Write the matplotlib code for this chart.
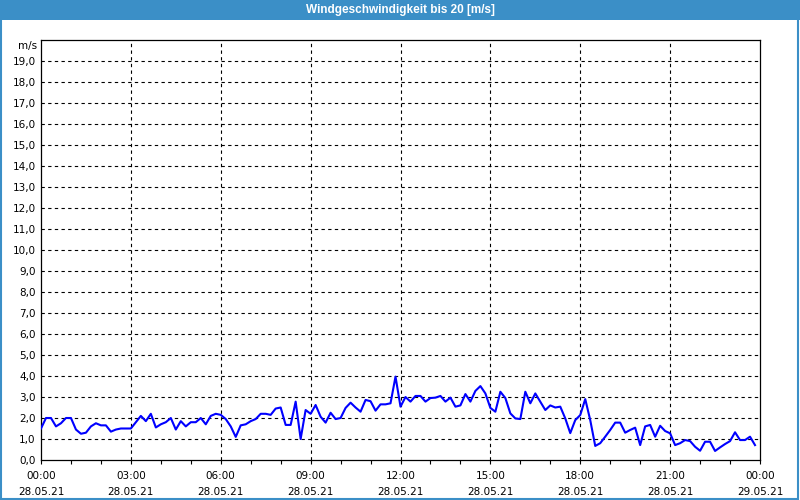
import numpy as np
import matplotlib
import matplotlib.pyplot as plt
from matplotlib.patches import Rectangle

matplotlib.use('agg')

TITLE = "Windgeschwindigkeit bis 20 [m/s]"
UNIT = "m/s"

# wind speed in m/s, one value every 10 minutes from 00:00 to 23:50
speed = [
    1.5, 2.0, 2.0, 1.6, 1.75, 2.0, 2.0, 1.45, 1.25, 1.3, 1.6, 1.75,
    1.65, 1.65, 1.35, 1.45, 1.5, 1.5, 1.5, 1.8, 2.1, 1.85, 2.2, 1.55,
    1.7, 1.8, 2.0, 1.45, 1.85, 1.6, 1.8, 1.8, 2.0, 1.7, 2.1, 2.2,
    2.15, 1.95, 1.6, 1.1, 1.65, 1.7, 1.85, 1.95, 2.2, 2.2, 2.15, 2.45,
    2.5, 1.67, 1.67, 2.78, 1.0, 2.38, 2.2, 2.62, 2.06, 1.78, 2.25, 1.95,
    2.0, 2.48, 2.73, 2.5, 2.3, 2.86, 2.8, 2.35, 2.65, 2.65, 2.7, 3.97,
    2.54, 3.0, 2.78, 3.05, 3.05, 2.78, 2.95, 2.97, 3.05, 2.78, 2.97, 2.54,
    2.6, 3.14, 2.78, 3.29, 3.52, 3.17, 2.48, 2.3, 3.25, 2.95, 2.22, 1.98,
    1.95, 3.25, 2.7, 3.17, 2.78, 2.38, 2.6, 2.5, 2.54, 1.98, 1.28, 1.9,
    2.14, 2.9, 1.9, 0.67, 0.8, 1.11, 1.43, 1.78, 1.78, 1.3, 1.43, 1.54,
    0.71, 1.6, 1.67, 1.11, 1.63, 1.38, 1.27, 0.71, 0.8, 0.95, 0.9, 0.63,
    0.44, 0.87, 0.87, 0.43, 0.6, 0.76, 0.9, 1.32, 0.95, 0.95, 1.11, 0.71,
]
STEP_MIN = 10

tick_hours = [0, 3, 6, 9, 12, 15, 18, 21, 24]
tick_times = ["00:00", "03:00", "06:00", "09:00", "12:00",
              "15:00", "18:00", "21:00", "00:00"]
tick_dates = ["28.05.21"] * 8 + ["29.05.21"]

BAR = '#3b8fc7'

hours = np.arange(len(speed)) * STEP_MIN / 60.0

fig = plt.figure(figsize=(8, 5), dpi=100)
fig.patch.set_facecolor('white')

# title bar and window border
fig.patches.append(Rectangle((0, 0.96), 1, 0.04, transform=fig.transFigure,
                             facecolor=BAR, edgecolor='none', zorder=0))
fig.patches.append(Rectangle((0.001, 0.002), 0.997, 0.996, transform=fig.transFigure,
                             facecolor='none', edgecolor=BAR, linewidth=1.5, zorder=1))
fig.text(0.5, 0.979, TITLE, color='white', ha='center', va='center',
         fontsize=8.5, fontweight='bold', family='Liberation Sans')

ax = fig.add_axes([41 / 800, 40 / 500, 719 / 800, 420 / 500])
ax.plot(hours, speed, color='#0000ff', linewidth=1.5, zorder=3)

ax.set_xlim(0, 24)
ax.set_ylim(0, 20)

ax.set_yticks(range(0, 20))
ax.set_yticklabels([f"{v},0" for v in range(0, 20)])
ax.tick_params(axis='y', length=0, pad=4, labelsize=7.5)

ax.set_xticks(tick_hours)
ax.set_xticklabels([f"{t}\n{d}" for t, d in zip(tick_times, tick_dates)],
                   linespacing=1.7)
ax.set_xticks(range(0, 25), minor=True)
ax.tick_params(axis='x', which='both', length=3, width=0.8, pad=5,
               labelsize=7.5, direction='out')

for v in range(1, 20):
    ax.axhline(v, color='black', linewidth=0.8, linestyle=(0, (3, 3)), zorder=1)
for h in tick_hours[1:-1]:
    ax.axvline(h, color='black', linewidth=0.8, linestyle=(0, (3, 3)), zorder=1)

for s in ax.spines.values():
    s.set_linewidth(0.9)

fig.text(37 / 800, 1 - 46 / 500, UNIT, ha='right', va='center', fontsize=7.5)

fig.savefig('out.png', dpi=100)
